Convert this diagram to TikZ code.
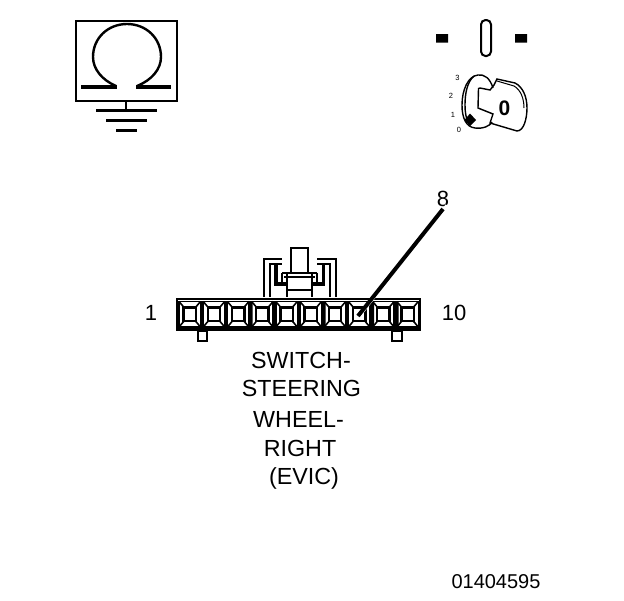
\documentclass[tikz,border=0pt]{standalone}
\usepackage{fontspec}
\setmainfont{Liberation Sans}
\tikzset{
  lbl/.style={inner sep=0pt,font=\fontsize{23.3}{23.3}\selectfont},
  numlbl/.style={inner sep=0pt,font=\fontsize{22}{22}\selectfont},
  tiny/.style={inner sep=0pt,font=\fontsize{7.5}{8}\selectfont},
  ln/.style={draw=black,line width=2pt},
  thk/.style={draw=black,line width=3.2pt},
  keyln/.style={draw=black,line width=1.4pt},
  cellframe/.style={draw=black,fill=white,line width=1.5pt},
  cellcore/.style={draw=black,fill=white,line width=2.4pt},
}
\newcommand{\pincell}[1]{%
  \path[cellframe] (#1+1.5,301.5) rectangle (#1+23,327);
  \draw[black,line width=1.6pt] (#1+1.5,301.5) -- (#1+23,327) (#1+23,301.5) -- (#1+1.5,327);
  \path[cellcore] (#1+6,307.5) rectangle (#1+18.5,321);
}
\begin{document}
\begin{tikzpicture}[x=1pt,y=-1pt]
\useasboundingbox (0,0) rectangle (624,600);
\fill[white] (0,0) rectangle (624,600);
% ground symbol
\draw[ln] (75.5,21) rectangle (176.5,100.5);
\draw[black,line width=2.4pt] (116,86) .. controls (102,80) and (93,69) .. (93,57) .. controls (93,38) and (108,24) .. (127,24) .. controls (146,24) and (161,38) .. (161,57) .. controls (161,69) and (152,80) .. (137,86);
\draw[thk] (81,87) -- (117,87) (136,87) -- (171,87);
\draw[ln] (126,100.5) -- (126,110.5);
\draw[line width=2.4pt] (96,110.5) -- (157,110.5) (106,120.5) -- (147,120.5) (116,130.5) -- (137,130.5);
% key
\fill (436,34) rectangle (448,42.5) (515,34) rectangle (527,42.5);
\draw[ln,rounded corners=4.5pt] (481,20) rectangle (491,56);
\draw[keyln] (493,88) .. controls (490,78) and (484,74) .. (478,75) .. controls (468,76) and (462,90) .. (462,105) .. controls (462,118) and (466,127) .. (475,128) .. controls (483,129) and (490,126) .. (492,122);
\draw[keyln] (474,76) .. controls (467,82) and (465,94) .. (465,105) .. controls (465,112) and (466,118) .. (468,122);
\draw[keyln] (480,88) -- (478.5,88.5) -- (478,108) -- (493,114) -- (490,123) -- (517,131) .. controls (524,131) and (527,118) .. (527,108) .. controls (527,97) and (523,87) .. (515,83) -- (497,79) -- (494,85) -- (490,90) -- cycle;
\draw[line width=1pt] (497,81) -- (514,86) .. controls (521,90) and (524,99) .. (524,108);
\node[inner sep=0pt,font=\bfseries\fontsize{21}{21}\selectfont] (keyzero) at (504.5,108) {0};
\fill (470,113.5) -- (476,120) -- (470,126) -- (464.5,120) -- cycle;
\node[tiny] (p3) at (457.5,78) {3};
\node[tiny] (p2) at (451,96) {2};
\node[tiny] (p1) at (453,115) {1};
\node[tiny] (p0) at (459,130) {0};
% housing
\draw[ln] (263.5,297) -- (263.5,258.5) -- (282,258.5);
\draw[ln] (336,297) -- (336,258.5) -- (317,258.5);
\draw[ln] (269.5,297) -- (269.5,264) -- (282,264);
\draw[ln] (330,297) -- (330,264) -- (317,264);
\draw[thk] (276,264) -- (276,284) -- (287,284);
\draw[thk] (323.5,264) -- (323.5,284) -- (312,284);
\draw[ln,fill=white] (291,248) rectangle (308,273);
\draw[ln] (282,272.5) -- (317,272.5) (284,277) -- (315,277) (287,290) -- (312,290);
\draw[ln] (287,273) -- (287,297) (312,273) -- (312,297);
\draw[ln] (282,272.5) -- (282,284) (317,272.5) -- (317,284);
% connector body
\fill (176,297.5) rectangle (421,331);
\draw[white,line width=1pt] (178,300) -- (419,300);
\foreach \i in {0,...,9} {\pincell{177.5+24.2*\i}}
\fill (200.5,303) rectangle (203.5,325) (249.5,303) rectangle (252.5,325) (322.5,303) rectangle (325.5,325) (371,303) rectangle (374,325) (395.5,303) rectangle (398.5,325);
\draw[ln,fill=white] (198,331) rectangle (207,340.5);
\draw[ln,fill=white] (392,331) rectangle (401.5,340.5);
% labels
\node[numlbl] (n1) at (151,313) {1};
\node[numlbl] (n10) at (454,313) {10};
\node[numlbl] (n8) at (443,199) {8};
\coordinate (tip) at (358,316);
\draw[white,line width=2pt] ([xshift=3.5pt,yshift=2pt]n8.south) -- ([xshift=3.5pt,yshift=2pt]tip);
\draw[line width=4pt] (n8.south) ++(0,2) -- (tip);
\node[lbl] (t1) at (301,360) {SWITCH-};
\node[lbl] (t2) at (301.5,388.5) {STEERING};
\node[lbl] (t3) at (298.5,419) {WHEEL-};
\node[lbl] (t4) at (300,448) {RIGHT};
\node[lbl] (t5) at (304,478) {(EVIC)};
\node[inner sep=0pt,font=\fontsize{20}{20}\selectfont] (docid) at (496,582) {01404595};
\end{tikzpicture}
\end{document}
